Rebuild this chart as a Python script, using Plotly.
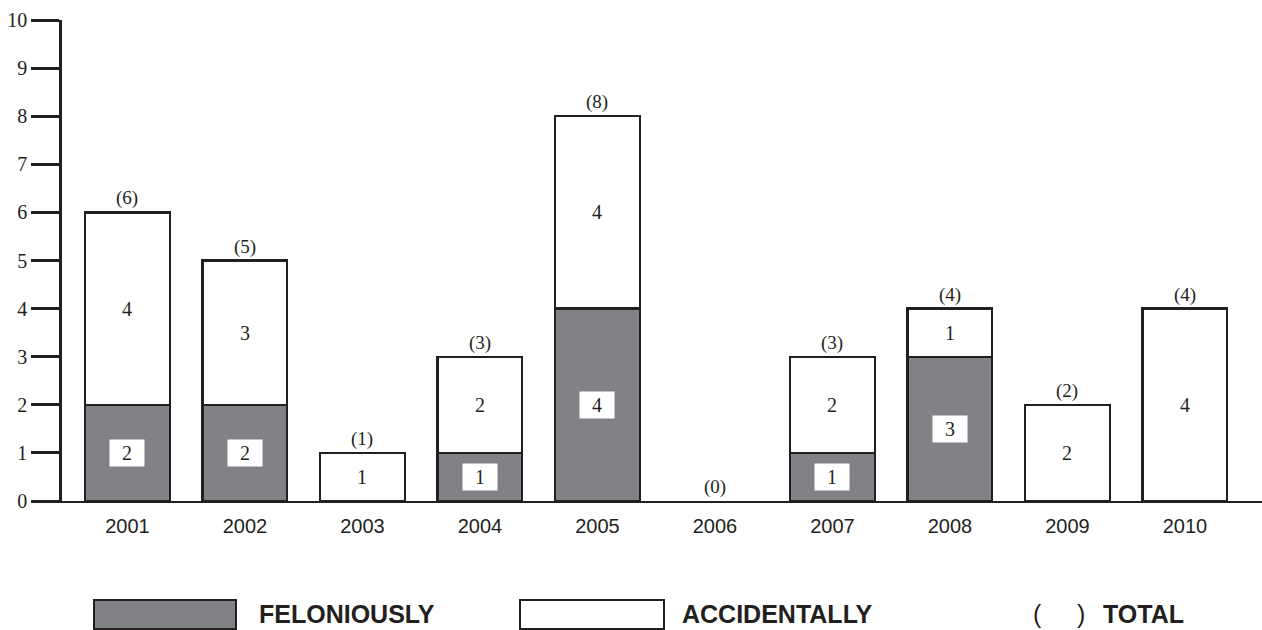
import plotly.graph_objects as go

years = ["2001", "2002", "2003", "2004", "2005", "2006", "2007", "2008", "2009", "2010"]
feloniously = [2, 2, 0, 1, 4, 0, 1, 3, 0, 0]
accidentally = [4, 3, 1, 2, 4, 0, 2, 1, 2, 4]
totals = [f + a for f, a in zip(feloniously, accidentally)]
y_ticks = list(range(0, 11))

GRAY = "#808285"
INK = "#231f20"
SERIF = "Liberation Serif, Times New Roman, serif"
SANS = "Liberation Sans, Arial, sans-serif"

idx = list(range(len(years)))
fel_line_w = [2.4 if t > 0 else 0 for t in totals]
acc_line_w = [2.4 if a > 0 else 0 for a in accidentally]

fig = go.Figure()
fig.add_trace(go.Bar(
    x=idx, y=feloniously, name="FELONIOUSLY",
    marker=dict(color=GRAY, line=dict(color=INK, width=fel_line_w)),
    width=0.72, showlegend=False, hoverinfo="skip",
))
fig.add_trace(go.Bar(
    x=idx, y=accidentally, name="ACCIDENTALLY",
    marker=dict(color="white", line=dict(color=INK, width=acc_line_w)),
    width=0.72, showlegend=False, hoverinfo="skip",
))

annotations = []
for i, f, a, t in zip(idx, feloniously, accidentally, totals):
    if f > 0:
        annotations.append(dict(
            x=i, y=f / 2, xref="x", yref="y", text=str(f), showarrow=False,
            font=dict(family=SERIF, size=20, color=INK),
            bgcolor="white", width=32, height=24,
        ))
    if a > 0:
        annotations.append(dict(
            x=i, y=f + a / 2, xref="x", yref="y", text=str(a), showarrow=False,
            font=dict(family=SERIF, size=20, color=INK),
        ))
    annotations.append(dict(
        x=i, y=t, xref="x", yref="y", text=f"({t})", showarrow=False,
        yanchor="bottom", yshift=1,
        font=dict(family=SERIF, size=19, color=INK),
    ))

# legend built from shapes + text
def px_x(px):
    return (px - 62) / 1200.0

def px_y(py):
    return (501 - py) / 481.0

shapes = [
    dict(type="rect", xref="paper", yref="paper",
         x0=px_x(94), x1=px_x(236), y0=px_y(600), y1=px_y(629),
         fillcolor=GRAY, line=dict(color=INK, width=2)),
    dict(type="rect", xref="paper", yref="paper",
         x0=px_x(520), x1=px_x(664), y0=px_y(600), y1=px_y(629),
         fillcolor="white", line=dict(color=INK, width=2)),
]
legend_items = [
    ("<b>FELONIOUSLY</b>", 257, 25),
    ("<b>ACCIDENTALLY</b>", 680, 25),
    ("(", 1031, 25),
    (")", 1075, 25),
    ("<b>TOTAL</b>", 1101, 25),
]
for txt, lx, sz in legend_items:
    annotations.append(dict(
        x=px_x(lx), y=px_y(614), xref="paper", yref="paper", text=txt,
        showarrow=False, xanchor="left", yanchor="middle", height=28,
        font=dict(family=SANS, size=sz, color=INK),
    ))

fig.update_layout(
    barmode="stack",
    width=1262, height=630,
    margin=dict(l=62, r=0, t=20, b=129),
    paper_bgcolor="white", plot_bgcolor="white",
    annotations=annotations, shapes=shapes,
    xaxis=dict(
        range=[-0.557, 9.656], tickvals=idx, ticktext=years,
        showline=True, linecolor=INK, linewidth=2,
        ticks="", showgrid=False, zeroline=False,
        tickfont=dict(family=SANS, size=20, color=INK),
        ticklabelstandoff=6,
    ),
    yaxis=dict(
        range=[0, 10], tickvals=y_ticks, ticktext=[str(v) for v in y_ticks],
        showline=True, linecolor=INK, linewidth=2.5,
        ticks="outside", ticklen=28, tickwidth=2.5, tickcolor=INK,
        showgrid=False, zeroline=False,
        tickfont=dict(family=SERIF, size=20, color=INK),
    ),
    showlegend=False,
)

fig.write_html("out.html", config={"displayModeBar": False})

with open("out.html", "r", encoding="utf-8") as fh:
    html = fh.read()
html = html.replace("<head>", "<head><style>html,body{margin:0;padding:0;overflow:hidden;}</style>", 1)
with open("out.html", "w", encoding="utf-8") as fh:
    fh.write(html)
